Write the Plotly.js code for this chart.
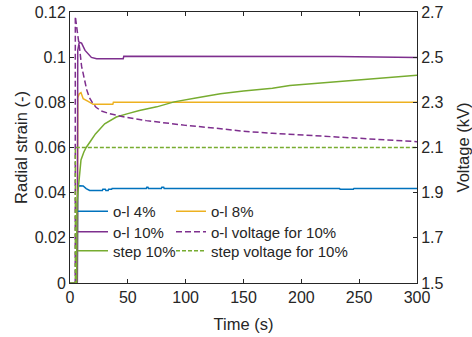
<!DOCTYPE html>
<html>
<head>
<meta charset="utf-8">
<script src="https://cdn.plot.ly/plotly-3.0.1.min.js"></script>
<style>html,body{margin:0;padding:0;background:#fff;}#chart{width:472px;height:337px;}</style>
</head>
<body>
<div id="chart"></div>
<script>
// ---- data ----
const tBlue   = [0, 6.3, 6.7, 8.5, 11.4, 14, 17, 28, 28.4, 30.5, 31, 33, 33.4, 36, 36.4, 66, 66.4, 67.4, 67.8, 79, 79.4, 81, 81.4, 233, 233.5, 245, 245.5, 300];
const sBlue   = [0, 0, 0.0428, 0.0431, 0.0430, 0.0418, 0.0410, 0.0410, 0.0415, 0.0415, 0.0410, 0.0410, 0.0415, 0.0415, 0.0419, 0.0419, 0.0424, 0.0424, 0.0419, 0.0419, 0.0424, 0.0424, 0.0419, 0.0419, 0.0415, 0.0415, 0.0419, 0.0419];

const tOrange = [0, 6.3, 6.7, 8, 9.5, 11.4, 15.7, 20, 37, 37.5, 300];
const sOrange = [0, 0, 0.0820, 0.0838, 0.0843, 0.0816, 0.0804, 0.0791, 0.0791, 0.0800, 0.0800];

const tPurple = [0, 6.3, 6.7, 8, 10, 13, 18.5, 23, 46, 46.5, 230, 300];
const sPurple = [0, 0, 0.1030, 0.1066, 0.1062, 0.1030, 0.0999, 0.0993, 0.0993, 0.1004, 0.1003, 0.0999];

const tGreen  = [0, 5.8, 6, 8, 9.5, 12, 14, 18, 22, 30, 40, 50, 60, 75, 90, 110, 130, 150, 175, 190, 210, 230, 250, 265, 280, 300];
const sGreen  = [0, 0, 0.0355, 0.0480, 0.0545, 0.0580, 0.0600, 0.0630, 0.0660, 0.0705, 0.0735, 0.0750, 0.0764, 0.0780, 0.0802, 0.0820, 0.0838, 0.0850, 0.0862, 0.0875, 0.0883, 0.0890, 0.0898, 0.0905, 0.0912, 0.0920];

const tVoltOL = [0, 4.4, 4.6, 6, 8.5, 10, 12.4, 14.5, 16.7, 19.5, 22.5, 27, 34, 45, 66, 80, 100, 125, 150, 175, 200, 225, 250, 275, 300];
const vVoltOL = [0, 0, 2.68, 2.63, 2.53, 2.46, 2.40, 2.355, 2.322, 2.297, 2.278, 2.262, 2.250, 2.237, 2.219, 2.210, 2.198, 2.186, 2.172, 2.163, 2.155, 2.148, 2.141, 2.134, 2.126];

const tVoltStep = [0, 4.5, 4.6, 300];
const vVoltStep = [0, 0, 2.1, 2.1];

const xTicks  = [0, 50, 100, 150, 200, 250, 300];
const yTicks  = [0, 0.02, 0.04, 0.06, 0.08, 0.1, 0.12];
const yLabels = ['0', '0.02', '0.04', '0.06', '0.08', '0.1', '0.12'];
const y2Ticks = [1.5, 1.7, 1.9, 2.1, 2.3, 2.5, 2.7];
const y2Labels = ['1.5', '1.7', '1.9', '2.1', '2.3', '2.5', '2.7'];

const names = ['o-l 4%', 'o-l 8%', 'o-l 10%', 'o-l voltage for 10%', 'step 10%', 'step voltage for 10%'];

// ---- chart ----
const C = {blue: '#0072BD', orange: '#EDB120', purple: '#7E2F8E', green: '#77AC30'};
const ink = '#262626';
const FONT = '"Liberation Sans", Arial, Helvetica, sans-serif';

const traces = [
  {x: tBlue, y: sBlue, name: names[0], legend: 'legend', line: {color: C.blue, width: 1.5}},
  {x: tOrange, y: sOrange, name: names[1], legend: 'legend2', line: {color: C.orange, width: 1.5}},
  {x: tPurple, y: sPurple, name: names[2], legend: 'legend3', line: {color: C.purple, width: 1.5}},
  {x: tVoltOL, y: vVoltOL, name: names[3], legend: 'legend4', yaxis: 'y2', line: {color: C.purple, width: 1.5, dash: '6px,3px'}},
  {x: tGreen, y: sGreen, name: names[4], legend: 'legend5', line: {color: C.green, width: 1.5}},
  {x: tVoltStep, y: vVoltStep, name: names[5], legend: 'legend6', yaxis: 'y2', line: {color: C.green, width: 1.4, dash: '4px,2px'}}
].map(t => Object.assign({type: 'scatter', mode: 'lines', hoverinfo: 'skip'}, t));

// legend positions (paper coords)
const W = 347, H = 271, L = 70, T = 12;
function lg(xTextPx, yCenterPx) {
  return {
    x: (xTextPx - 40 - L) / W, xanchor: 'left',
    y: (T + H - (yCenterPx - 16)) / H, yanchor: 'top',
    bgcolor: 'rgba(0,0,0,0)', borderwidth: 0,
    font: {family: FONT, size: 15, color: ink}
  };
}

const axisCommon = {
  showline: true, linecolor: ink, linewidth: 1,
  ticks: 'inside', ticklen: 4, tickcolor: ink, tickwidth: 1,
  showgrid: false, zeroline: false,
  tickfont: {family: FONT, size: 16, color: ink}
};

const layout = {
  width: 472, height: 337,
  margin: {l: L, r: 472 - L - W, t: T, b: 337 - T - H},
  paper_bgcolor: '#fff', plot_bgcolor: '#fff',
  font: {family: FONT, color: ink},
  xaxis: Object.assign({}, axisCommon, {
    range: [0, 300], tickvals: xTicks, mirror: 'ticks',
    title: {text: 'Time (s)', font: {family: FONT, size: 16.5, color: ink}, standoff: 13}
  }),
  yaxis: Object.assign({}, axisCommon, {
    range: [0, 0.12], tickvals: yTicks, ticktext: yLabels,
    title: {text: 'Radial strain (-)', font: {family: FONT, size: 16.5, color: ink}, standoff: 2}
  }),
  yaxis2: Object.assign({}, axisCommon, {
    range: [1.5, 2.7], tickvals: y2Ticks, ticktext: y2Labels,
    overlaying: 'y', side: 'right',
    title: {text: 'Voltage (kV)', font: {family: FONT, size: 16.5, color: ink}, standoff: 14}
  }),
  legend: lg(113, 211),
  legend2: lg(211, 211),
  legend3: lg(113, 231.5),
  legend4: lg(211, 231.5),
  legend5: lg(113, 250.5),
  legend6: lg(211, 250.5),
  showlegend: true
};

Plotly.newPlot('chart', traces, layout, {displayModeBar: false, staticPlot: true});
</script>
</body>
</html>
